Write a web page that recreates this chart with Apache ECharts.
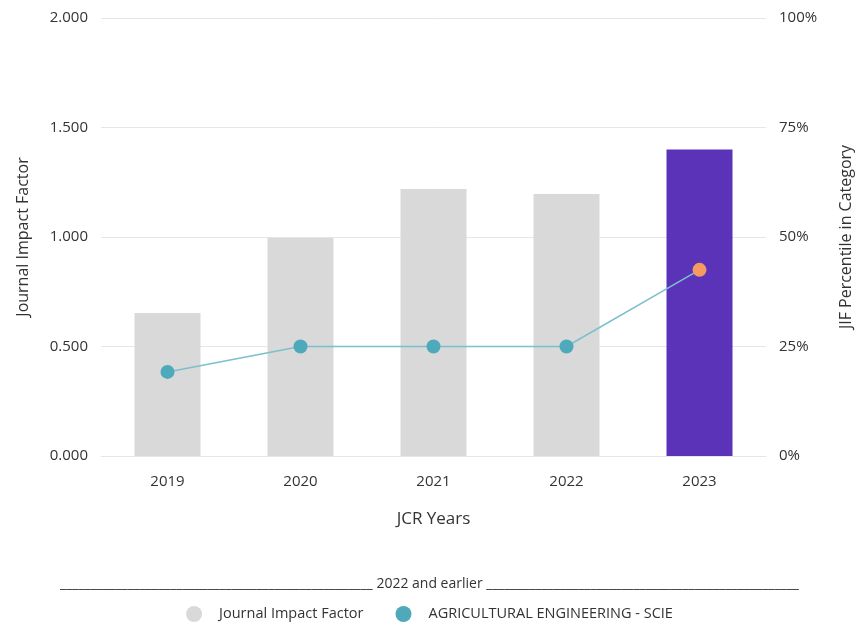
<!DOCTYPE html>
<html><head><meta charset="utf-8">
<script src="https://cdn.jsdelivr.net/npm/echarts@6/dist/echarts.min.js"></script>
<style>html,body{margin:0;padding:0;background:#fff}#c{width:859px;height:623px}</style>
</head><body><div id="c"></div>
<script>
const categories = ['2019','2020','2021','2022','2023'];
const jifValues = [0.653, 0.996, 1.219, 1.196, 1.400];
const percentileValues = [19.2, 25.0, 25.0, 25.0, 42.5];
const leftTicks = [0, 0.5, 1.0, 1.5, 2.0];
const rightTicks = [0, 25, 50, 75, 100];

const FONT = 'Open Sans';
const barGray = '#d9d9d9', barPurple = '#5b33b9';
const lineColor = '#7dbfcc', dotTeal = '#4eaaba', dotOrange = '#f59b62';
const last = categories.length - 1;

const chart = echarts.init(document.getElementById('c'));
chart.setOption({
  animation: false,
  textStyle: {fontFamily: FONT},
  grid: {left: 101, right: 93, top: 18, bottom: 167, containLabel: false, outerBoundsMode: 'none'},
  xAxis: {
    type: 'category', data: categories,
    axisLine: {lineStyle: {color: '#e6e6e6'}}, axisTick: {show: false},
    axisLabel: {color: '#333', fontSize: 15, margin: 18, fontFamily: FONT},
    name: 'JCR Years', nameLocation: 'middle', nameGap: 55,
    nameTextStyle: {color: '#333', fontSize: 17, fontFamily: FONT}
  },
  yAxis: [{
    type: 'value', min: leftTicks[0], max: leftTicks[leftTicks.length-1], interval: 0.5,
    axisLabel: {color: '#333', fontSize: 15, margin: 13, fontFamily: FONT, formatter: v => v.toFixed(3)},
    splitLine: {lineStyle: {color: '#e6e6e6'}}, axisLine: {show: false}, axisTick: {show: false},
    name: 'Journal Impact Factor', nameLocation: 'middle', nameGap: 70, nameRotate: 90,
    nameTextStyle: {color: '#333', fontSize: 16, fontFamily: FONT}
  },{
    type: 'value', min: rightTicks[0], max: rightTicks[rightTicks.length-1], interval: 25,
    axisLabel: {color: '#333', fontSize: 15, margin: 13, fontFamily: FONT, formatter: '{value}%'},
    splitLine: {show: false}, axisLine: {show: false}, axisTick: {show: false},
    name: 'JIF Percentile in Category', nameLocation: 'middle', nameGap: 72, nameRotate: 90,
    nameTextStyle: {color: '#333', fontSize: 16, fontFamily: FONT}
  }],
  legend: {
    top: 601, left: 'center', itemWidth: 16, itemHeight: 16, itemGap: 32,
    textStyle: {color: '#333', fontSize: 14.5, fontFamily: FONT, padding: [0, 0, 0, 12]},
    data: [
      {name: 'Journal Impact Factor', icon: 'circle', itemStyle: {color: barGray}},
      {name: 'AGRICULTURAL ENGINEERING - SCIE', icon: 'circle', itemStyle: {color: dotTeal}}
    ]
  },
  graphic: [{
    type: 'text', left: 'center', top: 577,
    style: {text: '_'.repeat(51) + ' 2022 and earlier ' + '_'.repeat(51), fill: '#333', fontSize: 14, fontFamily: FONT}
  }],
  series: [{
    name: 'Journal Impact Factor', type: 'bar', barWidth: 66, yAxisIndex: 0,
    data: jifValues.map((v,i) => ({value: v, itemStyle: {color: i === last ? barPurple : barGray}}))
  },{
    name: 'AGRICULTURAL ENGINEERING - SCIE', type: 'line', yAxisIndex: 1,
    symbol: 'circle', symbolSize: 14, lineStyle: {color: lineColor, width: 1.5},
    itemStyle: {color: dotTeal},
    data: percentileValues.map((v,i) => ({value: v, itemStyle: {color: i === last ? dotOrange : dotTeal}}))
  }]
});
</script></body></html>
